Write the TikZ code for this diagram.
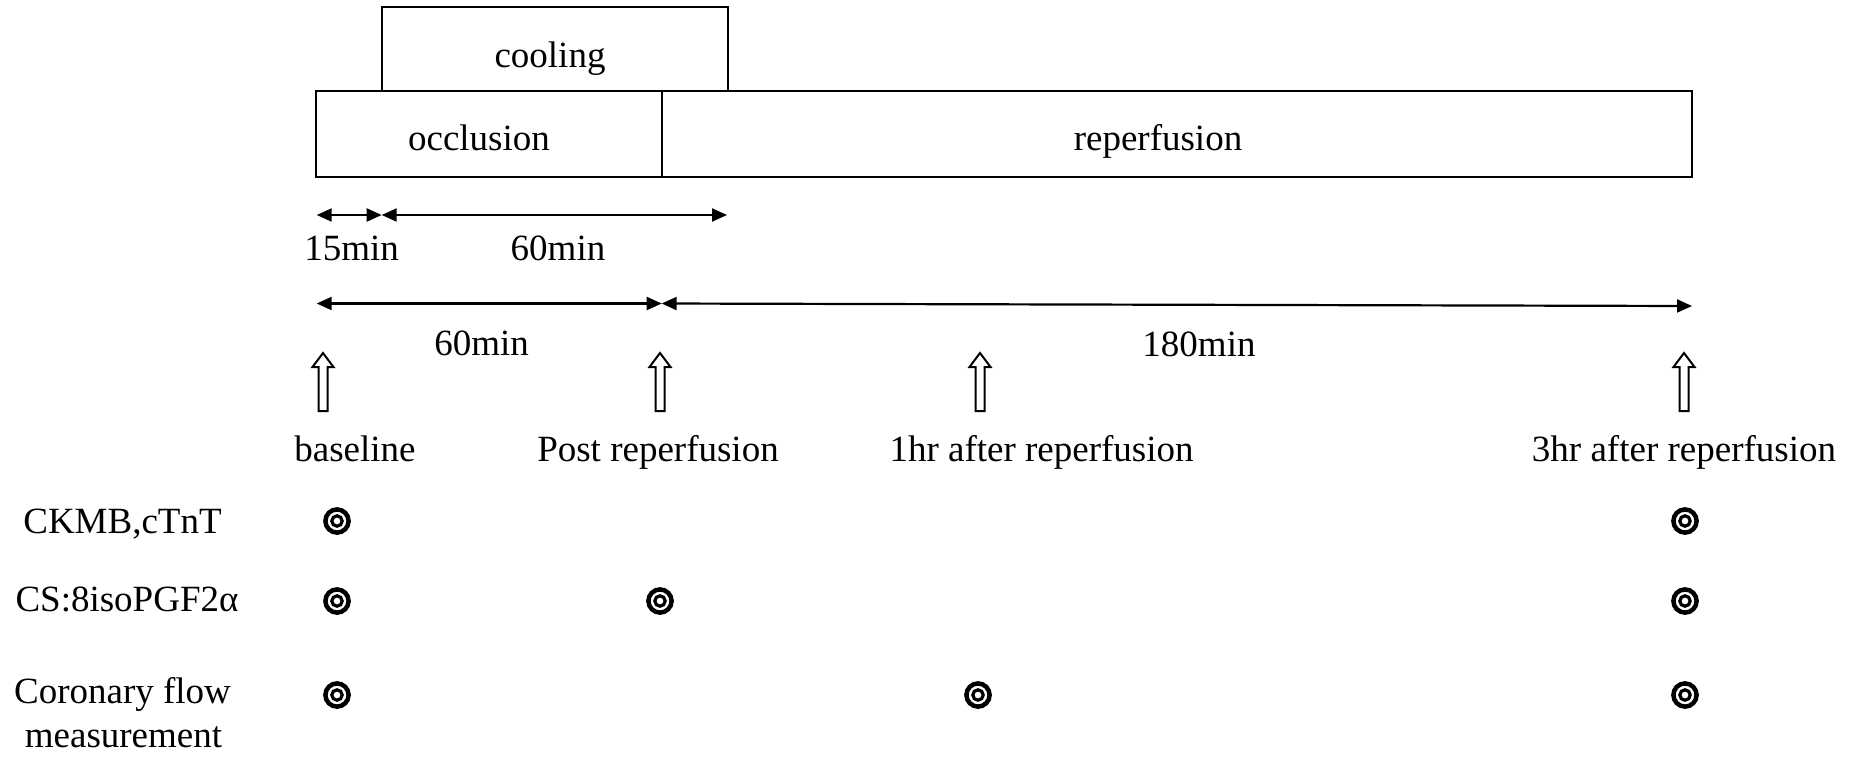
\documentclass[tikz,border=0pt]{standalone}
\usepackage{fontspec}
\setmainfont{Liberation Serif}
\usetikzlibrary{arrows.meta}
\begin{document}
\begin{tikzpicture}[x=1pt,y=-1pt,
  every node/.style={font=\fontsize{37}{34}\selectfont, inner sep=0pt},
  box/.style={draw, line width=2.5pt, rectangle, inner sep=0pt},
  lbl/.style={anchor=base},
  dim/.style={line width=2.2pt, {Triangle[length=15pt,width=13pt]}-{Triangle[length=15pt,width=13pt]}},
  hollowup/.pic={\draw[line width=2pt, line join=miter] (-4.5,0) -- (-4.5,-44) -- (-10.5,-44) -- (0,-58) -- (10.5,-44) -- (4.5,-44) -- (4.5,0) -- cycle;},
  bull/.pic={\draw[line width=4.5pt] (0,0) circle[radius=11.6pt]; \draw[line width=3.2pt] (0,0) circle[radius=5.2pt];}
]
\useasboundingbox (0,0) rectangle (1861,756);

% boxes
\node[box, minimum width=346pt, minimum height=84pt] (cool) at (555,49) {};
\node[box, minimum width=346pt, minimum height=86pt] (occl) at (489,134) {};
\node[box, minimum width=1030pt, minimum height=86pt] (rep) at (1177,134) {};
\node[lbl] (tcool) at (550,67) {cooling};
\node[lbl] (tocc) at (479,150) {occlusion};
\node[lbl] (trep) at (1158,150) {reperfusion};

% dimension arrows
\coordinate (a0) at (316.7,215);
\coordinate (a1) at (381.7,215);
\coordinate (a2) at (727,215);
\coordinate (b0) at (316.7,303.5);
\coordinate (b1) at (661.7,303.5);
\coordinate (b2) at (1692,306);
\draw[dim] (a0) -- (a1);
\draw[dim] (a1) -- (a2);
\draw[dim] (b0) -- (b1);
\draw[dim] (b1) -- (b2);
\node[lbl] (d15) at (351.7,260) {15min};
\node[lbl] (d60a) at (558,260) {60min};
\node[lbl] (d60b) at (481.7,355.7) {60min};
\node[lbl] (d180) at (1199,356) {180min};

% hollow arrows
\pic at (323,411) {hollowup};
\pic at (660,411) {hollowup};
\pic at (980,411) {hollowup};
\pic at (1684,411) {hollowup};

% time point labels
\node[lbl] (tp0) at (355,461.7) {baseline};
\node[lbl] (tp1) at (658,461.7) {Post reperfusion};
\node[lbl] (tp2) at (1041.6,461.7) {1hr after reperfusion};
\node[lbl] (tp3) at (1684,461.7) {3hr after reperfusion};

% row labels
\node[lbl] (r1) at (122.5,533) {CKMB,cTnT};
\node[lbl] (r2) at (127,611.7) {CS:8isoPGF2α};
\node[lbl] (r3a) at (122.5,703) {Coronary flow};
\node[lbl] (r3b) at (123.5,747) {measurement};

% bullseyes
\pic at (337,521) {bull};
\pic at (337,601) {bull};
\pic at (337,695) {bull};
\pic at (660,601) {bull};
\pic at (978,695) {bull};
\pic at (1685,521) {bull};
\pic at (1685,601) {bull};
\pic at (1685,695) {bull};
\end{tikzpicture}
\end{document}
